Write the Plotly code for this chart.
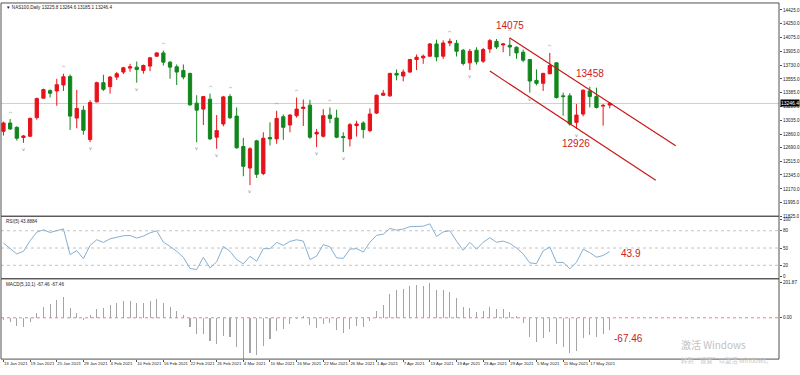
import plotly.graph_objects as go

# ---------------- data ----------------
tick_labels = ["13 Jan 2021", "19 Jan 2021", "25 Jan 2021", "29 Jan 2021", "4 Feb 2021",
               "10 Feb 2021", "16 Feb 2021", "22 Feb 2021", "26 Feb 2021", "4 Mar 2021",
               "10 Mar 2021", "16 Mar 2021", "22 Mar 2021", "26 Mar 2021", "1 Apr 2021",
               "7 Apr 2021", "13 Apr 2021", "19 Apr 2021", "23 Apr 2021", "29 Apr 2021",
               "5 May 2021", "11 May 2021", "17 May 2021"]
tick_step = 4

opens = [12896, 13000, 12946, 12817, 12833, 13067, 13313, 13408, 13404, 13479,
         13587, 13062, 13162, 12792, 13267, 13508, 13458, 13579, 13642, 13692,
         13704, 13662, 13717, 13842, 13883, 13767, 13708, 13662, 13625, 13250,
         13175, 13300, 12821, 12988, 13333, 13087, 12704, 12433, 12775, 12363,
         12817, 12800, 13079, 12975, 13092, 13183, 13225, 12862, 12833, 13100,
         13063, 12829, 12800, 12967, 13000, 12904, 13125, 13350, 13342, 13625,
         13592, 13642, 13800, 13821, 13842, 13996, 13842, 14008, 14004, 13917,
         13758, 13917, 13779, 13933, 14029, 13983, 13979, 13954, 13892, 13800,
         13537, 13500, 13621, 13758, 13342, 13342, 13008, 13113, 13404, 13333,
         13213, 13225.8]
highs = [13017, 13050, 12958, 12850, 13067, 13321, 13433, 13425, 13558, 13621,
         13612, 13417, 13217, 13288, 13521, 13608, 13592, 13642, 13708, 13746,
         13775, 13737, 13833, 13892, 13913, 13779, 13738, 13738, 13633, 13350,
         13342, 13371, 13100, 13342, 13363, 13196, 12813, 12696, 12788, 12883,
         13008, 13154, 13108, 13112, 13321, 13296, 13292, 12925, 13175, 13196,
         13167, 12883, 13000, 13029, 13021, 13183, 13358, 13417, 13633, 13675,
         13675, 13808, 13863, 13863, 14008, 14050, 14042, 14065, 14045, 13933,
         13933, 13954, 13946, 14058, 14058, 14008, 14075, 13967, 13925, 13808,
         13675, 13633, 13883, 13767, 13383, 13375, 13238, 13425, 13458, 13446,
         13238, 13264.6]
lows = [12842, 12913, 12779, 12750, 12829, 13042, 13308, 13321, 13217, 13404,
        12913, 12933, 12854, 12758, 13258, 13404, 13371, 13542, 13617, 13646,
        13508, 13621, 13654, 13833, 13725, 13558, 13479, 13550, 13217, 12758,
        12975, 12788, 12675, 12958, 13050, 12675, 12329, 12217, 12308, 12342,
        12717, 12738, 12788, 12883, 13067, 12962, 12800, 12696, 12817, 12999,
        12808, 12633, 12704, 12829, 12808, 12883, 13113, 13342, 13329, 13538,
        13525, 13633, 13667, 13746, 13833, 13779, 13808, 13967, 13838, 13725,
        13667, 13737, 13758, 13883, 13933, 13892, 13842, 13808, 13767, 13383,
        13475, 13404, 13613, 13308, 13092, 12967, 12926, 13083, 13196, 13183,
        12967, 13185.1]
closes = [13000, 12925, 12808, 12837, 13058, 13308, 13421, 13375, 13483, 13583,
          13087, 13183, 12908, 13258, 13508, 13425, 13579, 13621, 13696, 13708,
          13675, 13725, 13821, 13883, 13767, 13704, 13642, 13579, 13229, 13162,
          13333, 12800, 12904, 13329, 13067, 12688, 12454, 12675, 12354, 12808,
          12800, 13058, 12946, 13100, 13175, 13200, 12821, 12883, 13092, 13058,
          12821, 12817, 12979, 12988, 12917, 13113, 13350, 13375, 13625, 13604,
          13642, 13800, 13829, 13842, 13996, 13833, 14008, 14029, 13904, 13750,
          13904, 13771, 13925, 14038, 13958, 13996, 13958, 13883, 13792, 13529,
          13500, 13625, 13725, 13321, 13333, 12988, 13100, 13413, 13333, 13196,
          13222, 13246.4]

rsi = [58.6, 48.9, 39.7, 44.3, 62.6, 77.6, 81.6, 77.0, 79.9, 83.3,
       38.5, 45.4, 31.6, 54.6, 64.4, 59.8, 66.0, 68.4, 71.3, 71.8,
       67.2, 70.7, 76.4, 79.9, 60.3, 52.9, 44.3, 33.9, 14.4, 12.6,
       33.9, 15.5, 25.9, 52.9, 44.3, 29.9, 22.4, 35.6, 27.0, 48.9,
       48.9, 59.8, 54.6, 61.5, 64.4, 62.0, 30.0, 36.0, 56.0, 52.0,
       33.0, 32.0, 48.0, 49.0, 43.0, 60.0, 72.0, 74.0, 84.0, 81.0,
       83.0, 87.0, 88.0, 88.0, 92.0, 70.0, 78.0, 80.0, 62.0, 46.0,
       60.0, 48.0, 60.0, 68.0, 60.0, 62.0, 58.0, 50.0, 40.0, 24.0,
       23.0, 45.0, 52.0, 25.0, 25.0, 14.0, 25.0, 48.0, 42.0, 34.0,
       37.0, 43.8884]
rsi_levels = [80, 50, 20]
rsi_ticks = [100, 80, 50, 20, 0]

macd = [-10, -22, -45, -52, -25, 25, 65, 80, 100, 118,
        55, 30, -10, 15, 50, 58, 72, 85, 95, 98,
        88, 88, 98, 108, 85, 62, 42, 18, -55, -95,
        -92, -135, -150, -105, -112, -170, -238.47, -205, -215, -160,
        -125, -75, -62, -38, -8, 12, -42, -60, -38, -30,
        -72, -88, -66, -50, -55, -20, 40, 75, 140, 160,
        165, 185, 190, 185, 201.87, 160, 162, 150, 115, 62,
        58, 32, 42, 62, 52, 48, 32, 8, -28, -112,
        -142, -118, -82, -150, -168, -205, -190, -118, -98, -108,
        -92, -67.46]

price_ticks = [14425, 14250, 14075, 13905, 13730, 13555, 13385, 13210,
               13035, 12860, 12690, 12515, 12345, 12170, 11995, 11825]

frac_up = [1, 9, 24, 31, 34, 41, 44, 49, 67, 76, 82, 88]
frac_dn = [3, 13, 20, 29, 32, 37, 47, 51, 70, 79, 86]

channel_upper_x = [76.0, 100.9]
channel_upper_y = [14071, 12712]
channel_lower_x = [73.0, 97.9]
channel_lower_y = [13654, 12279]

marked_high_bars = [76, 88]   # labelled swing highs
marked_low_bars = [86]        # labelled swing low

symbol = "NAS100,Daily"

# ---------------- style ----------------
RED = "#e5131b"
GREEN = "#12861c"
ANN_RED = "#cc2020"
W, H = 800, 375
def py(px):  # pixel row -> paper y
    return 1 - px / H

X0, X1 = 1 / W, 779 / W
MAIN = (218, 3)
RSIP = (281, 218)
MACDP = (362, 281)
small = dict(family="Liberation Sans, Arial", size=4.6, color="#222222")

n = len(closes)
idx = list(range(n))

fig = go.Figure()

fig.add_trace(go.Candlestick(
    x=idx, open=opens, high=highs, low=lows, close=closes,
    increasing=dict(line=dict(color=RED, width=1), fillcolor=RED),
    decreasing=dict(line=dict(color=GREEN, width=1), fillcolor=GREEN),
    whiskerwidth=0, xaxis="x", yaxis="y", showlegend=False, hoverinfo="skip"))

fig.add_trace(go.Scatter(x=channel_upper_x, y=channel_upper_y, mode="lines",
                         line=dict(color="#c81818", width=1.2), xaxis="x", yaxis="y",
                         showlegend=False, hoverinfo="skip"))
fig.add_trace(go.Scatter(x=channel_lower_x, y=channel_lower_y, mode="lines",
                         line=dict(color="#c81818", width=1.2), xaxis="x", yaxis="y",
                         showlegend=False, hoverinfo="skip"))

fig.add_trace(go.Scatter(x=idx, y=rsi, mode="lines", line=dict(color="#86afd2", width=1),
                         xaxis="x", yaxis="y2", showlegend=False, hoverinfo="skip"))

fig.add_trace(go.Bar(x=idx, y=macd, width=0.16, marker=dict(color="#a4a4a4", line=dict(width=0)),
                     xaxis="x", yaxis="y3", showlegend=False, hoverinfo="skip"))

shapes = []
shapes.append(dict(type="line", xref="paper", x0=X0, x1=X1, yref="y", y0=closes[-1], y1=closes[-1],
                   line=dict(color="#cfcfcf", width=1), layer="below"))
for lv in rsi_levels:
    shapes.append(dict(type="line", xref="paper", x0=X0, x1=X1, yref="y2", y0=lv, y1=lv,
                       line=dict(color="#c4c4c4", width=1, dash="dot"), layer="below"))
shapes.append(dict(type="line", xref="paper", x0=X0, x1=X1, yref="y3", y0=0, y1=0,
                   line=dict(color="#d88a8a", width=1, dash="dot"), layer="below"))
for (b, t) in (MAIN, RSIP, MACDP):
    shapes.append(dict(type="rect", xref="paper", yref="paper", x0=X0, x1=X1, y0=py(b), y1=py(t),
                       line=dict(color="#505050", width=1), fillcolor="rgba(0,0,0,0)"))

annotations = []
for i in frac_up:
    annotations.append(dict(x=i, y=highs[i], xref="x", yref="y", text="^", showarrow=False,
                            yshift=6, font=dict(family="DejaVu Sans", size=6, color="#8a8a8a")))
for i in frac_dn:
    annotations.append(dict(x=i, y=lows[i], xref="x", yref="y", text="v", showarrow=False,
                            yshift=-6, font=dict(family="DejaVu Sans", size=5, color="#8a8a8a")))
red_font = dict(family="Liberation Sans, Arial", size=10, color=ANN_RED)
for i, ys in zip(marked_high_bars, [12, 13]):
    annotations.append(dict(x=i, y=highs[i], xref="x", yref="y", text=f"{highs[i]:.0f}",
                            showarrow=False, yshift=ys, font=red_font))
for i in marked_low_bars:
    annotations.append(dict(x=i, y=lows[i], xref="x", yref="y", text=f"{lows[i]:.0f}",
                            showarrow=False, yshift=-15, font=red_font))
annotations.append(dict(x=n - 1, y=rsi[-1], xref="x", yref="y2", text=f"{rsi[-1]:.1f}",
                        showarrow=False, xanchor="left", xshift=9, yshift=-2, font=red_font))
annotations.append(dict(x=n - 1, y=macd[-1], xref="x", yref="y3", text=f"{macd[-1]:.2f}",
                        showarrow=False, xanchor="left", xshift=2, yshift=-9, font=red_font))
annotations.append(dict(x=X1, y=closes[-1], xref="paper", yref="y", text=f"{closes[-1]:.1f}",
                        showarrow=False, xanchor="left", xshift=1, bgcolor="#000000", borderpad=0,
                        font=dict(family="Liberation Sans, Arial", size=5, color="#ffffff")))
annotations.append(dict(x=4 / W, y=py(3.5), xref="paper", yref="paper", xanchor="left", yanchor="top",
                        showarrow=False,
                        text=f"▼ {symbol} {opens[-1]:.1f} {highs[-1]:.1f} {lows[-1]:.1f} {closes[-1]:.1f}",
                        font=small))
annotations.append(dict(x=4 / W, y=py(219), xref="paper", yref="paper", xanchor="left", yanchor="top",
                        showarrow=False, text=f"RSI(5) {rsi[-1]:.4f}", font=small))
annotations.append(dict(x=4 / W, y=py(282), xref="paper", yref="paper", xanchor="left", yanchor="top",
                        showarrow=False, text=f"MACD(5,10,1) {macd[-1]:.2f} {macd[-1]:.2f}", font=small))
annotations.append(dict(x=679 / W, y=py(357), xref="paper", yref="paper", xanchor="left",
                        showarrow=False, text="激活 Windows",
                        font=dict(family="Noto Sans CJK SC", size=10, color="#c2c2c2")))
annotations.append(dict(x=679 / W, y=py(370), xref="paper", yref="paper", xanchor="left",
                        showarrow=False, text="转到“设置”以激活 Windows。",
                        font=dict(family="Noto Sans CJK SC", size=6.3, color="#c8c8c8")))

axis_common = dict(showgrid=False, zeroline=False, fixedrange=True, side="right", anchor="x",
                   ticks="outside", ticklen=2, tickcolor="#505050", tickfont=small,
                   showline=False)

fig.update_layout(
    width=W, height=H, margin=dict(l=0, r=0, t=0, b=0),
    paper_bgcolor="white", plot_bgcolor="white",
    showlegend=False, bargap=0, boxgap=0.3,
    xaxis=dict(domain=[X0, X1], range=[-0.37, 116.4], anchor="y3",
               tickvals=list(range(0, tick_step * len(tick_labels), tick_step)),
               ticktext=tick_labels, ticklabelposition="outside right", tickangle=0,
               ticks="outside", ticklen=2, tickcolor="#505050",
               tickfont=dict(family="Liberation Sans, Arial", size=4.3, color="#222222"),
               showgrid=False, zeroline=False, showline=False,
               rangeslider=dict(visible=False), fixedrange=True),
    yaxis=dict(domain=[py(MAIN[0]), py(MAIN[1])], range=[11825, 14512.5],
               tickvals=price_ticks, ticktext=[f"{v:.1f}" for v in price_ticks], **axis_common),
    yaxis2=dict(domain=[py(RSIP[0]), py(RSIP[1])], range=[-3.4, 105.2],
                tickvals=rsi_ticks, ticktext=[str(v) for v in rsi_ticks], **axis_common),
    yaxis3=dict(domain=[py(MACDP[0]), py(MACDP[1])], range=[-238, 225],
                tickvals=[max(macd), 0, min(macd)],
                ticktext=[f"{max(macd):.2f}", "0.00", f"{min(macd):.2f}"], **axis_common),
    shapes=shapes, annotations=annotations,
)

fig.write_html("out.html", config={"displayModeBar": False, "staticPlot": True},
               post_script="document.body.style.margin='0';document.body.style.overflow='hidden';")
